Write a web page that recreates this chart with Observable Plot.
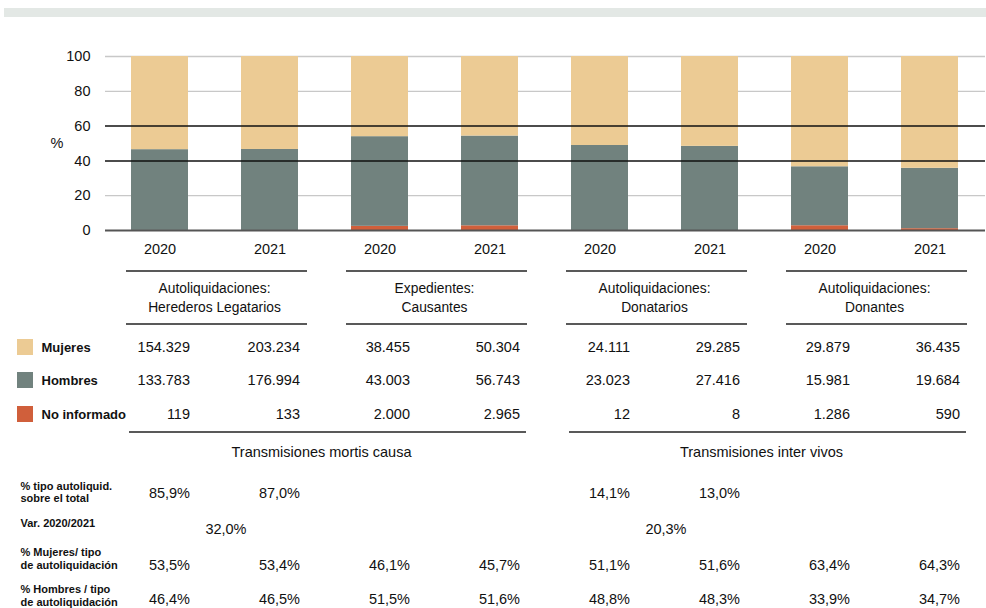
<!DOCTYPE html>
<html><head><meta charset="utf-8">
<script src="https://cdn.jsdelivr.net/npm/d3@7"></script>
<script src="https://cdn.jsdelivr.net/npm/@observablehq/plot@0.6"></script>
<style>
body{margin:0;background:#fff;font-family:"Liberation Sans",Arial,sans-serif;}
#band{position:absolute;left:4px;top:8px;width:982px;height:9px;background:#e3e8e5;}
#chart{position:absolute;left:0;top:0;}
</style></head><body>
<div id="band"></div><div id="chart"></div>
<script>
// ---- data ----
const grupos = ["Autoliquidaciones:\nHerederos Legatarios", "Expedientes:\nCausantes", "Autoliquidaciones:\nDonatarios", "Autoliquidaciones:\nDonantes"];
const anios = ["2020", "2021"];
const series = ["No informado", "Hombres", "Mujeres"];
const mujeres = [154329, 203234, 38455, 50304, 24111, 29285, 29879, 36435];
const hombres = [133783, 176994, 43003, 56743, 23023, 27416, 15981, 19684];
const noInformado = [119, 133, 2000, 2965, 12, 8, 1286, 590];
const bloques = ["Transmisiones mortis causa", "Transmisiones inter vivos"];
const pctTipo = ["85,9%", "87,0%", "", "", "14,1%", "13,0%", "", ""];
const varAnual = ["32,0%", "20,3%"];
const pctMujeres = ["53,5%", "53,4%", "46,1%", "45,7%", "51,1%", "51,6%", "63,4%", "64,3%"];
const pctHombres = ["46,4%", "46,5%", "51,5%", "51,6%", "48,8%", "48,3%", "33,9%", "34,7%"];
const etiquetasFilas = ["% tipo autoliquid.\nsobre el total", "Var. 2020/2021", "% Mujeres/ tipo\nde autoliquidación", "% Hombres / tipo\nde autoliquidación"];
const colores = ["#d05f3b", "#71827e", "#eccb94"];

// ---- derived tables ----
const loc = d3.formatLocale({decimal: ",", thousands: ".", grouping: [3], currency: ["", "€"]});
const fmt = loc.format(",d");
const cols = grupos.flatMap((g, gi) => anios.map((a, ai) => ({key: gi + "-" + a, gi, anio: a, i: gi * 2 + ai})));
const keys = cols.map(c => c.key);
const valores = {"Mujeres": mujeres, "Hombres": hombres, "No informado": noInformado};
const rows = cols.flatMap(c => {
  const tot = mujeres[c.i] + hombres[c.i] + noInformado[c.i];
  return series.map(s => ({key: c.key, serie: s, pct: valores[s][c.i] / tot * 100}));
});

const B = 230; // frame bottom reference for offsets
const numText = (arr, cy) => Plot.text(cols, {x: "key", text: c => arr[c.i], frameAnchor: "bottom", dy: cy - B, dx: 30, textAnchor: "end", lineAnchor: "middle", fontSize: 14.5, fill: "#111"});
const leftLabel = (t, cy, opts = {}) => Plot.text([t], {text: d => d, frameAnchor: "bottom-left", dy: cy - B, textAnchor: "start", lineAnchor: "middle", fontWeight: "bold", fill: "#111", ...opts});

const plot = Plot.plot({
  width: 986, height: 608,
  marginTop: 56, marginBottom: 378, marginLeft: 105, marginRight: 1,
  style: {fontFamily: "'Liberation Sans', Arial, sans-serif", fontSize: "14.5px", color: "#111", background: "transparent"},
  x: {domain: keys, paddingInner: 0.48, paddingOuter: 0.24, tickFormat: k => k.split("-")[1], tickSize: 0, tickPadding: 13, label: null},
  y: {domain: [0, 100], ticks: [0, 20, 40, 60, 80, 100], tickSize: 0, tickPadding: 15, label: null},
  color: {domain: series, range: colores},
  marks: [
    Plot.ruleY([20, 80, 100], {stroke: "#c8c8c8", strokeWidth: 1.3}),
    Plot.barY(rows, {x: "key", y: "pct", fill: "serie"}),
    Plot.ruleY([40, 60], {stroke: "#111", strokeWidth: 1.5}),
    Plot.ruleY([0], {stroke: "#555", strokeWidth: 2}),
    Plot.text(["%"], {text: d => d, frameAnchor: "left", dx: -55, fontSize: 14.5}),
    numText(mujeres.map(fmt), 347),
    numText(hombres.map(fmt), 380),
    numText(noInformado.map(fmt), 414),
    numText(pctTipo, 493),
    numText(pctMujeres, 565),
    numText(pctHombres, 599),
    leftLabel("Mujeres", 347, {dx: 41 - 105, fontSize: 13}),
    leftLabel("Hombres", 380, {dx: 41 - 105, fontSize: 13}),
    leftLabel("No informado", 414, {dx: 41 - 105, fontSize: 13}),
    leftLabel(etiquetasFilas[0], 492, {dx: 20 - 105, fontSize: 11, lineHeight: 1.05}),
    leftLabel(etiquetasFilas[1], 523, {dx: 20 - 105, fontSize: 11}),
    leftLabel(etiquetasFilas[2], 558, {dx: 20 - 105, fontSize: 11, lineHeight: 1.15}),
    leftLabel(etiquetasFilas[3], 595, {dx: 20 - 105, fontSize: 11, lineHeight: 1.2})
  ]
});
document.getElementById("chart").appendChild(plot);

// ---- table decorations positioned with the plot's own x scale ----
const svg = d3.select(plot.tagName.toLowerCase() === "svg" ? plot : plot.querySelector("svg"));
const x = plot.scale("x");
const bw = x.bandwidth;
const X = k => x.apply(k);
const g = svg.append("g");
const line = (x1, x2, y) => g.append("line").attr("x1", x1).attr("x2", x2).attr("y1", y).attr("y2", y).attr("stroke", "#595959").attr("stroke-width", 2);
const txt = (t, xx, y, anchor, size, weight) => g.append("text").attr("x", xx).attr("y", y).attr("dy", "0.35em").attr("text-anchor", anchor).attr("font-size", size).attr("font-weight", weight || "normal").attr("fill", "#111").text(t);

grupos.forEach((gr, gi) => {
  const a = X(gi + "-" + anios[0]), b = X(gi + "-" + anios[1]) + bw;
  line(a - 5, b + 9, 271);
  line(a - 5, b + 9, 324);
  const cx = (a + b) / 2;
  gr.split("\n").forEach((l, li) => txt(l, cx, 288 + li * 19, "middle", 13.8));
});
bloques.forEach((bl, bi) => {
  const a = X((bi * 2) + "-" + anios[0]), b = X((bi * 2 + 1) + "-" + anios[1]) + bw;
  line(a - 2, b + 8, 432);
  txt(bl, (a + b) / 2 - 3, 452, "middle", 14.5);
  const m = (X((bi * 2) + "-" + anios[0]) + X((bi * 2) + "-" + anios[1])) / 2 + bw / 2;
  txt(varAnual[bi], m + 32, 529, "end", 14.5);
});
series.slice().reverse().forEach((s, si) => {
  g.append("rect").attr("x", 17).attr("y", [339, 372, 406][si]).attr("width", 16).attr("height", 16).attr("fill", plot.scale("color").apply(s));
});
</script>
</body></html>
